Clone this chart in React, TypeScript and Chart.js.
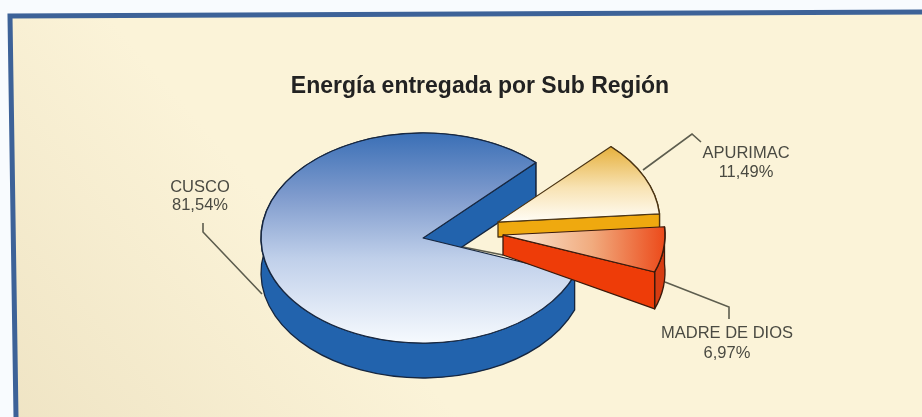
import React, { useEffect, useRef } from "react";
import { Chart, registerables } from "chart.js";

Chart.register(...registerables);

const categories = ["CUSCO", "APURIMAC", "MADRE DE DIOS"];
const shares = [81.54, 11.49, 6.97];
const titleText = "Energía entregada por Sub Región";

const W = 922;
const H = 417;
const CX = 423;
const CY = 238;
const RX = 162;
const SQUASH = 105 / 162;
const explodeX = [0, 75, 80];
const explodeY = [0, -16, -3];
const depthOuter = [35, 15, 37];
const depthApex = [35, 15, 20];
const wallColors = ["#2263ad", "#efa90f", "#ee3c08"];
const rimColors = ["#2263ad", "#efa90f", "#d63c12"];
const edgeColors = ["#16263f", "#4a3312", "#3a1a0c"];
const labelAnchors = [
  { x: 200, y1: 187, y2: 205 },
  { x: 746, y1: 153, y2: 172 },
  { x: 727, y1: 333, y2: 353 },
];
const leaders = [
  [[203, 223], [203, 232], [262, 294]],
  [[643, 170], [692, 134], [701, 142]],
  [[665, 282], [729, 307], [729, 319]],
  [[463, 247], [503, 255]],
];

const fmt = (v: number) => v.toFixed(2).replace(".", ",") + "%";

const pie3d = {
  id: "pie3d",
  beforeDraw(chart: any) {
    const ctx: CanvasRenderingContext2D = chart.ctx;
    ctx.save();
    ctx.fillStyle = "#f8fbfe";
    ctx.fillRect(0, 0, W, H);
    const bg = ctx.createLinearGradient(0, 417, 260, 190);
    bg.addColorStop(0, "#efe4c4");
    bg.addColorStop(1, "#fbf3d8");
    ctx.beginPath();
    ctx.moveTo(10, 16);
    ctx.lineTo(W, 12);
    ctx.lineTo(W, H);
    ctx.lineTo(16, H);
    ctx.closePath();
    ctx.fillStyle = bg;
    ctx.fill();
    ctx.beginPath();
    ctx.moveTo(16, H);
    ctx.lineTo(10, 16);
    ctx.lineTo(W, 12);
    ctx.lineWidth = 5;
    ctx.lineJoin = "miter";
    ctx.strokeStyle = "#3d6298";
    ctx.stroke();
    ctx.restore();
  },
  beforeDatasetsDraw(chart: any) {
    const ctx: CanvasRenderingContext2D = chart.ctx;
    const arcs = chart.getDatasetMeta(0).data;

    ctx.save();
    ctx.strokeStyle = "#5d5d4e";
    ctx.lineWidth = 1.6;
    leaders.forEach((l) => {
      ctx.beginPath();
      l.forEach((p, i) => (i ? ctx.lineTo(p[0], p[1]) : ctx.moveTo(p[0], p[1])));
      ctx.stroke();
    });
    ctx.restore();

    arcs.forEach((el: any, i: number) => {
      const { x, y, startAngle: a0, endAngle: a1, outerRadius: R } = el.getProps(
        ["x", "y", "startAngle", "endAngle", "outerRadius"],
        true
      );
      const ox = x + explodeX[i];
      const oy = y + explodeY[i];
      const ry = R * SQUASH;
      const d = depthOuter[i];
      const da = depthApex[i];
      const px = (a: number) => ox + Math.cos(a) * R;
      const py = (a: number) => oy + Math.sin(a) * ry;

      ctx.save();
      ctx.lineJoin = "round";
      ctx.lineWidth = 1.3;
      ctx.strokeStyle = edgeColors[i];

      // outer rim wall
      ctx.beginPath();
      ctx.ellipse(ox, oy, R, ry, 0, a0, a1, false);
      ctx.ellipse(ox, oy + d, R, ry, 0, a1, a0, true);
      ctx.closePath();
      ctx.fillStyle = rimColors[i];
      ctx.fill();
      ctx.stroke();

      // the cut wall that faces the viewer
      ctx.beginPath();
      ctx.moveTo(ox, oy);
      ctx.lineTo(px(a1), py(a1));
      ctx.lineTo(px(a1), py(a1) + d);
      ctx.lineTo(ox, oy + da);
      ctx.closePath();
      ctx.fillStyle = wallColors[i];
      ctx.fill();
      ctx.stroke();
      ctx.restore();

      // top face: the library's own arc, flattened and moved out
      ctx.save();
      ctx.translate(ox, oy);
      ctx.scale(1, SQUASH);
      ctx.translate(-x, -y);
      el.draw(ctx);
      ctx.restore();
    });

    return false;
  },
  afterDraw(chart: any) {
    const ctx: CanvasRenderingContext2D = chart.ctx;
    ctx.save();
    ctx.textAlign = "center";
    ctx.textBaseline = "middle";
    ctx.fillStyle = "#222222";
    ctx.font = 'bold 23px "Liberation Sans"';
    ctx.fillText(titleText, 480, 87);
    ctx.fillStyle = "#4a4a42";
    ctx.font = '16.5px "Liberation Sans"';
    categories.forEach((c, i) => {
      const a = labelAnchors[i];
      ctx.fillText(c, a.x, a.y1);
      ctx.fillText(fmt(shares[i]), a.x, a.y2);
    });
    ctx.restore();
  },
};

export default function App() {
  const ref = useRef<HTMLCanvasElement | null>(null);
  useEffect(() => {
    const canvas = ref.current!;
    const g = canvas.getContext("2d")!;
    const topY = CY - RX;
    const botY = CY + RX;
    const blue = g.createLinearGradient(0, topY, 0, botY);
    blue.addColorStop(0, "#3a6fb6");
    blue.addColorStop(0.3, "#7f9bcd");
    blue.addColorStop(0.6, "#c0d0ea");
    blue.addColorStop(1, "#f6fafe");
    const gold = g.createLinearGradient(0, CY - RX * 0.72, 0, CY);
    gold.addColorStop(0, "#e6b03c");
    gold.addColorStop(0.55, "#f8e3b4");
    gold.addColorStop(1, "#fffdf6");
    const red = g.createLinearGradient(CX, 0, CX + RX, 0);
    red.addColorStop(0, "#fbeedd");
    red.addColorStop(0.55, "#f1ab7e");
    red.addColorStop(1, "#ec4a1a");

    const chart = new Chart(canvas, {
      type: "pie",
      data: {
        labels: categories,
        datasets: [
          {
            data: shares,
            backgroundColor: [blue, gold, red],
            borderColor: edgeColors,
            borderWidth: 1.5,
          },
        ],
      },
      plugins: [pie3d],
      options: {
        animation: false,
        responsive: false,
        rotation: 110.6,
        radius: RX,
        layout: { padding: { left: 0, right: W - 2 * CX, top: 2 * CY - H, bottom: 0 } },
        plugins: {
          legend: { display: false },
          title: { display: false },
          tooltip: { enabled: false },
        },
      },
    });
    return () => chart.destroy();
  }, []);

  return (
    <div style={{ position: "fixed", left: 0, top: 0, width: W, height: H, overflow: "hidden" }}>
      <canvas
        ref={ref}
        width={W}
        height={H}
        style={{ position: "absolute", left: 0, top: 0, width: W, height: H, filter: "blur(0.6px)" }}
      />
    </div>
  );
}
